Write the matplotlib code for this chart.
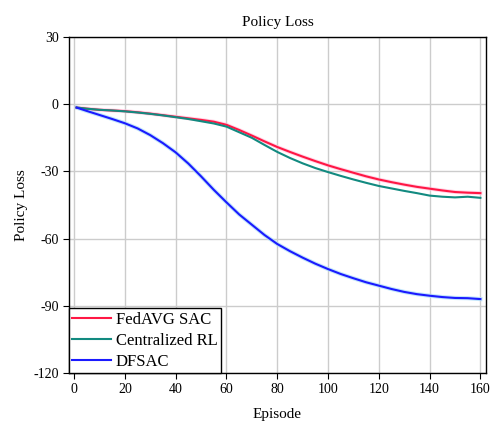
import matplotlib
matplotlib.use('Agg')
import matplotlib.pyplot as plt
import numpy as np

plt.rcParams['font.family'] = ['Liberation Serif', 'DejaVu Serif']
plt.rcParams['axes.unicode_minus'] = False

# episodes sampled every 5
episodes = [1, 5, 10, 15, 20, 25, 30, 35, 40, 45, 50, 55, 60, 65, 70, 75, 80,
            85, 90, 95, 100, 105, 110, 115, 120, 125, 130, 135, 140, 145, 150, 155, 160]

fedavg_sac = [-1.5, -2.0, -2.5, -2.8, -3.1, -3.6, -4.2, -4.9, -5.6, -6.3, -7.0, -7.8,
              -9.2, -11.5, -14.0, -16.6, -19.1, -21.3, -23.4, -25.4, -27.3, -29.0,
              -30.6, -32.2, -33.6, -34.8, -35.9, -36.9, -37.7, -38.5, -39.2, -39.5, -39.7]

centralized_rl = [-1.5, -2.0, -2.5, -2.8, -3.2, -3.7, -4.3, -5.0, -5.8, -6.6, -7.6, -8.6,
                  -10.0, -12.5, -15.0, -18.2, -21.3, -24.0, -26.4, -28.5, -30.3, -32.0,
                  -33.6, -35.1, -36.5, -37.6, -38.7, -39.7, -40.8, -41.3, -41.6, -41.3, -41.8]

dfsac = [-1.5, -3.0, -4.8, -6.6, -8.5, -10.8, -13.8, -17.4, -21.5, -26.5, -32.2, -38.2,
         -43.8, -49.2, -53.8, -58.4, -62.4, -65.6, -68.5, -71.2, -73.6, -75.8, -77.7,
         -79.5, -81.0, -82.5, -83.8, -84.8, -85.5, -86.1, -86.5, -86.6, -87.0]

fig = plt.figure(figsize=(4.91, 4.24), dpi=100)
ax = fig.add_axes([0.1405, 0.1203, 0.8493, 0.7924])

# light halo behind each curve
ax.plot(episodes, fedavg_sac, color='#ffc2dc', linewidth=2.8, alpha=0.7)
ax.plot(episodes, dfsac, color='#b3e0fa', linewidth=3.0, alpha=0.8)

ax.plot(episodes, fedavg_sac, color='#ff1744', linewidth=1.5, label='FedAVG SAC')
ax.plot(episodes, centralized_rl, color='#128a80', linewidth=1.5, label='Centralized RL')
ax.plot(episodes, dfsac, color='#1a1aff', linewidth=1.5, label='DFSAC')

ax.set_xlim(-2, 162.2)
ax.set_ylim(-120, 30)
ax.set_xticks([0, 20, 40, 60, 80, 100, 120, 140, 160])
ax.set_yticks([-120, -90, -60, -30, 0, 30])
ax.grid(color='#cccccc', linewidth=1.0)
ax.set_axisbelow(True)
ax.tick_params(direction='out', length=4, labelsize=10, top=False, right=False)
for s in ax.spines.values():
    s.set_linewidth(1.0)
    s.set_color('black')

ax.set_xlabel('Episode', fontsize=11, labelpad=8)
ax.set_ylabel('Policy Loss', fontsize=11, labelpad=4)
ax.set_title('Policy Loss', fontsize=11, pad=8)

leg = ax.legend(loc='lower left', fontsize=12, frameon=True, fancybox=False,
                borderaxespad=0, borderpad=0.2, handlelength=2.3, handletextpad=0.3,
                labelspacing=0.3)
leg.get_frame().set_edgecolor('black')
leg.get_frame().set_linewidth(1.0)
leg.get_frame().set_alpha(1)

fig.savefig('out.png', dpi=100)
